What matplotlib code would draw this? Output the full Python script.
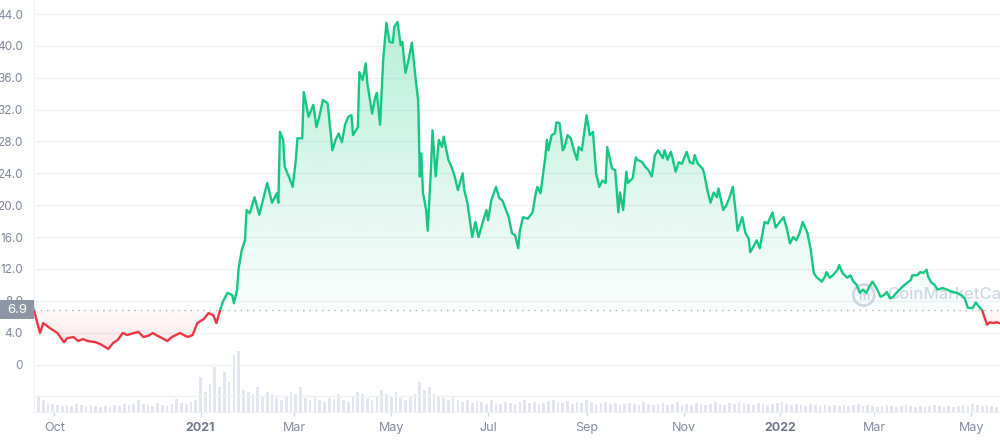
import matplotlib

matplotlib.use("Agg")
import matplotlib.dates as mdates
import matplotlib.pyplot as plt
import numpy as np
import pandas as pd
from matplotlib.patches import Ellipse, Rectangle
from matplotlib.transforms import blended_transform_factory

plt.rcParams["font.family"] = ["Inter", "DejaVu Sans"]

LISTING_DATE = pd.Timestamp("2020-09-17")
BASELINE = 6.9

GREEN = "#16c784"
RED = "#ea3943"
GRID = "#eff2f5"
TEXT = "#808a9d"

# price readings: days since listing, price in USD
price_days = [
    1, 2, 5, 7, 11, 16, 20, 22, 26, 29, 32, 35, 40, 43, 46, 48, 51, 54, 57, 60,
    64, 67, 70, 73, 76, 79, 82, 85, 88, 93, 98, 101, 104, 108, 111, 114, 116, 118, 120, 123,
    126, 127, 129, 130, 132, 134, 135, 137, 140, 143, 148, 151, 154, 155, 156, 158, 159, 162, 164, 166,
    167, 170, 171, 174, 177, 179, 181, 183, 186, 189, 191, 193, 195, 197, 199, 201, 202, 205, 206, 208,
    210, 211, 214, 216, 217, 219, 221, 223, 225, 227, 228, 230, 232, 233, 235, 237, 239, 241, 242, 243,
    244, 245, 246, 248, 249, 251, 252, 254, 256, 258, 259, 262, 264, 266, 268, 271, 272, 274, 277, 279,
    281, 284, 286, 287, 289, 292, 294, 296, 300, 302, 304, 306, 307, 309, 312, 315, 317, 318, 320, 323,
    324, 325, 327, 329, 330, 332, 334, 335, 337, 339, 341, 343, 344, 346, 349, 351, 353, 355, 357, 359,
    361, 362, 365, 367, 369, 370, 372, 374, 375, 378, 380, 381, 384, 386, 388, 390, 392, 394, 397, 398,
    400, 402, 403, 405, 407, 409, 412, 414, 416, 417, 419, 422, 423, 425, 427, 429, 431, 432, 435, 437,
    439, 441, 443, 444, 447, 449, 451, 452, 454, 456, 458, 461, 463, 466, 468, 469, 473, 475, 477, 479,
    481, 483, 485, 488, 490, 492, 494, 496, 497, 499, 500, 502, 504, 507, 508, 510, 513, 515, 517, 519,
    521, 523, 525, 527, 529, 532, 534, 536, 538, 540, 542, 544, 546, 548, 551, 553, 554, 557, 559, 561,
    563, 564, 566, 568, 570, 573, 576, 579, 582, 585, 587, 589, 592, 594, 595, 598, 599, 601, 603, 605,
    607, 609,
]
price_usd = [
    6.9, 6.2, 3.95, 5.2, 4.6, 3.95, 2.8, 3.3, 3.45, 2.95, 3.2, 2.95, 2.8, 2.55, 2.2, 1.95, 2.7, 3.1, 3.95, 3.7,
    3.95, 4.1, 3.45, 3.6, 3.95, 3.6, 3.3, 2.95, 3.45, 3.95, 3.45, 3.7, 5.2, 5.7, 6.45, 6.2, 5.2, 6.6, 7.85, 9.0,
    8.7, 7.7, 9.35, 12.1, 14.4, 15.6, 19.4, 19.0, 21.0, 18.8, 22.8, 20.3, 21.5, 20.3, 29.2, 28.2, 24.8, 23.4, 22.3, 25.7,
    28.4, 28.4, 34.2, 31.1, 32.6, 29.8, 31.3, 33.2, 32.8, 26.9, 28.2, 29.0, 27.9, 30.1, 31.1, 31.3, 28.8, 29.8, 36.7, 35.7,
    37.8, 35.3, 31.5, 33.6, 34.1, 30.1, 38.3, 42.9, 40.5, 40.4, 42.4, 43.0, 40.1, 40.5, 36.6, 38.3, 40.4, 36.6, 34.8, 33.2,
    23.6, 26.5, 21.6, 19.4, 16.8, 24.4, 29.4, 23.6, 28.2, 27.3, 28.6, 25.7, 24.8, 23.6, 21.9, 24.0, 21.9, 20.3, 16.0, 17.9,
    16.0, 18.1, 19.4, 18.1, 20.6, 22.3, 20.9, 20.6, 18.5, 16.5, 16.2, 14.6, 16.8, 18.5, 18.3, 19.1, 21.5, 22.3, 21.5, 26.0,
    28.2, 26.9, 28.8, 29.0, 30.4, 30.3, 26.9, 27.2, 28.8, 28.4, 26.9, 25.7, 27.3, 26.9, 31.3, 28.8, 29.2, 24.0, 22.3, 23.1,
    22.8, 27.3, 24.6, 24.4, 19.1, 21.6, 19.4, 24.2, 22.8, 23.4, 26.0, 25.7, 25.4, 24.8, 24.4, 23.6, 26.3, 26.9, 25.9, 26.9,
    25.7, 26.7, 26.0, 24.2, 25.4, 25.2, 26.7, 25.4, 25.2, 26.3, 25.2, 24.6, 24.0, 21.9, 20.3, 21.6, 21.0, 22.1, 19.4, 20.0,
    21.0, 22.3, 18.9, 16.8, 18.5, 16.5, 15.8, 14.1, 14.8, 15.6, 14.6, 17.9, 17.7, 19.1, 17.2, 17.5, 18.5, 17.1, 15.2, 16.0,
    15.6, 16.5, 17.9, 16.5, 14.5, 11.5, 10.9, 10.6, 10.4, 11.0, 11.6, 10.9, 11.2, 11.9, 12.5, 11.5, 10.9, 11.2, 10.4, 10.0,
    9.0, 9.4, 9.0, 9.8, 10.4, 9.4, 8.5, 8.7, 9.1, 8.3, 8.5, 9.0, 9.4, 9.8, 10.3, 10.6, 11.2, 11.2, 11.6, 11.5,
    11.9, 11.0, 10.3, 10.0, 9.4, 9.6, 9.4, 9.1, 9.0, 8.7, 8.3, 7.1, 7.1, 7.8, 7.5, 6.8, 6.2, 5.0, 5.3, 5.2,
    5.3, 5.2,
]

# 24h volume, relative bar height, one reading every third day from day 1
volume_days = np.arange(1, 608, 3)
volume = [
    24, 16, 12, 9, 8, 7, 6, 7, 6, 8,
    7, 6, 7, 6, 5, 6, 5, 7, 6, 8,
    7, 8, 12, 8, 7, 6, 9, 7, 6, 8,
    13, 9, 8, 10, 12, 35, 20, 28, 45, 25,
    40, 30, 57, 61, 22, 20, 18, 25, 15, 20,
    18, 14, 12, 16, 20, 18, 25, 14, 12, 15,
    12, 10, 14, 13, 18, 12, 10, 15, 20, 18,
    14, 12, 16, 22, 18, 15, 20, 14, 12, 16,
    18, 30, 22, 25, 18, 15, 14, 12, 16, 12,
    10, 12, 9, 11, 10, 8, 12, 9, 8, 10,
    9, 8, 10, 12, 9, 10, 8, 9, 11, 12,
    10, 9, 11, 8, 10, 9, 12, 10, 8, 9,
    10, 8, 9, 7, 8, 9, 8, 7, 10, 8,
    7, 8, 9, 7, 8, 10, 7, 8, 7, 9,
    8, 7, 8, 10, 8, 7, 9, 8, 10, 9,
    8, 7, 9, 8, 7, 8, 9, 10, 8, 7,
    8, 7, 6, 8, 7, 6, 7, 6, 7, 6,
    7, 6, 7, 8, 6, 7, 6, 5, 6, 7,
    6, 5, 6, 7, 6, 5, 6, 5, 6, 7,
    6, 5, 6, 5, 6, 7, 6, 8, 7, 6,
    7, 6, 5,
]

y_ticks = [-4, 0, 4, 8, 12, 16, 20, 24, 28, 32, 36, 40, 44]
y_labels = ["", "0", "4.0", "8.0", "12.0", "16.0", "20.0", "24.0", "28.0", "32.0", "36.0", "40.0", "44.0"]
x_ticks = ["2020-10-01", "2021-01-01", "2021-03-01", "2021-05-01", "2021-07-01",
           "2021-09-01", "2021-11-01", "2022-01-01", "2022-03-01", "2022-05-01"]
x_labels = ["Oct", "2021", "Mar", "May", "Jul", "Sep", "Nov", "2022", "Mar", "May"]

dates = LISTING_DATE + pd.to_timedelta(price_days, unit="D")
vol_dates = LISTING_DATE + pd.to_timedelta(volume_days, unit="D")
prices = np.array(price_usd)

fig = plt.figure(figsize=(10, 4.41), dpi=100)
rect = [0.034, 29 / 441, 0.966, 412 / 441]
ax_vol = fig.add_axes(rect, zorder=0)
ax = fig.add_axes(rect, zorder=1)
ax.patch.set_visible(False)

x0 = mdates.date2num(LISTING_DATE + pd.Timedelta(days=1.2))
x1 = mdates.date2num(LISTING_DATE + pd.Timedelta(days=609.2))
y_bottom, y_top = -5.96, 45.76

# volume bars
ax_vol.bar(vol_dates, volume, width=1.7, color="#e3e6ee", linewidth=0)
ax_vol.set_xlim(x0, x1)
ax_vol.set_ylim(0, 412)
ax_vol.axis("off")

# gradient fills clipped to the area between price and baseline
area = ax.fill_between(dates, prices, BASELINE, facecolor="none", edgecolor="none")
area_path = area.get_paths()[0]

ramp = np.linspace(0, 1, 256).reshape(-1, 1)
green_img = np.zeros((256, 1, 4))
green_img[..., :3] = matplotlib.colors.to_rgb(GREEN)
green_img[..., 3] = 0.02 + 0.3 * ramp
im_g = ax.imshow(green_img, extent=[x0, x1, BASELINE, y_top], origin="lower",
                 aspect="auto", zorder=1, interpolation="bilinear")
im_g.set_clip_path(area_path, ax.transData)

red_img = np.zeros((256, 1, 4))
red_img[..., :3] = matplotlib.colors.to_rgb(RED)
red_img[..., 3] = 0.14 - 0.11 * ramp
im_r = ax.imshow(red_img, extent=[x0, x1, 1.0, BASELINE], origin="lower",
                 aspect="auto", zorder=1, interpolation="bilinear")
im_r.set_clip_path(area_path, ax.transData)

# price line, green above baseline and red below
up_clip = Rectangle((x0 - 10, BASELINE), x1 - x0 + 20, 100, transform=ax.transData)
down_clip = Rectangle((x0 - 10, BASELINE - 100), x1 - x0 + 20, 100, transform=ax.transData)
line_g, = ax.plot(dates, prices, color=GREEN, lw=1.7, zorder=4, solid_joinstyle="round")
line_g.set_clip_path(up_clip)
line_r, = ax.plot(dates, prices, color=RED, lw=1.7, zorder=4, solid_joinstyle="round")
line_r.set_clip_path(down_clip)

ax.axhline(BASELINE, color="#a9b0bc", lw=1, linestyle=(0, (1, 3.5)), zorder=3)

# watermark
WM = "#c3cbdb"
ax.text(0.883, 0.284, "CoinMarketCap", transform=ax.transAxes, fontsize=12,
        fontweight="medium", color=WM, alpha=0.75, va="center", ha="left", zorder=2)
ax.add_patch(Ellipse((0.859, 0.284), 21 / 966, 21 / 412, transform=ax.transAxes,
                     fill=False, edgecolor=WM, lw=2.0, alpha=0.75, zorder=2))
ax.text(0.859, 0.279, "m", transform=ax.transAxes, fontsize=9, fontweight="bold",
        color=WM, alpha=0.75, ha="center", va="center", zorder=2)

# current price tag on the y axis
tag_trans = blended_transform_factory(ax.transAxes, ax.transData)
tag_h = 19 / 7.966
ax.add_patch(Rectangle((-34 / 966, BASELINE - tag_h / 2), 34 / 966, tag_h, transform=tag_trans,
                       facecolor="#8f96a3", edgecolor="none", clip_on=False, zorder=6))
ax.text(-17 / 966, BASELINE, f"{BASELINE}", transform=tag_trans, color="white", fontsize=9.5,
        ha="center", va="center", clip_on=False, zorder=7)

ax.set_xlim(x0, x1)
ax.set_ylim(y_bottom, y_top)

ax.set_yticks(y_ticks, y_labels)
ax.tick_params(axis="y", length=0, pad=8, labelsize=8.5, labelcolor=TEXT)
ax.grid(axis="y", color=GRID, lw=1)
ax.set_axisbelow(True)

ax.set_xticks(pd.to_datetime(x_ticks), x_labels)
ax.tick_params(axis="x", length=3, width=1, color="#cfd6e4", pad=4, labelsize=9, labelcolor="#858ca2")
for lbl in ax.get_xticklabels():
    if lbl.get_text() in ("2021", "2022"):
        lbl.set_fontweight("bold")
        lbl.set_color("#6f788a")

for side in ("top", "right"):
    ax.spines[side].set_visible(False)
ax.spines["left"].set_color(GRID)
ax.spines["bottom"].set_color(GRID)

fig.savefig("out.png", dpi=100)
